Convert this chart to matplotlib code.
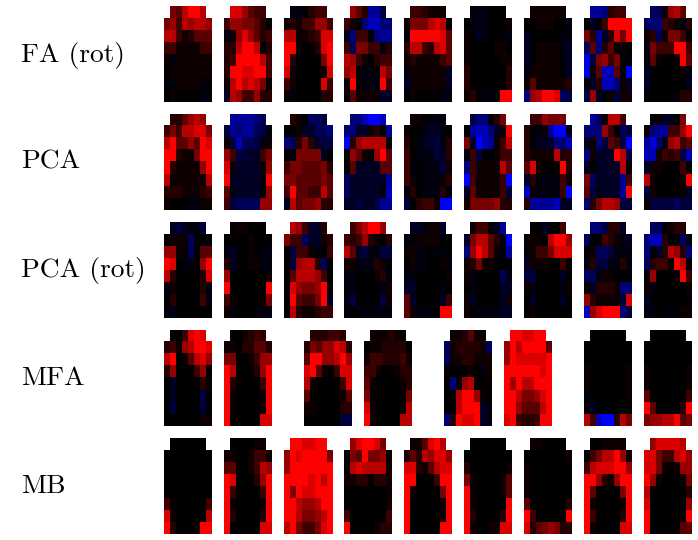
import numpy as np
import matplotlib
matplotlib.use("Agg")
import matplotlib.pyplot as plt
from matplotlib.colors import LinearSegmentedColormap

# loadings, scale -9 (blue) .. 0 (black) .. 9 (red)
fa_rot = [
    [[0,5,4,7,9,9,7,0],[5,6,3,7,6,7,7,6],[7,7,3,1,2,4,4,4],[3,3,1,1,1,1,3,3],
     [1,-1,1,1,1,1,1,1],[0,1,1,1,1,1,1,1],[-1,-1,1,1,1,1,-1,0],[0,1,0,0,0,0,-1,-1]],
    [[0,8,8,6,4,3,3,0],[3,6,6,5,5,4,2,0],[-1,1,6,8,6,4,2,3],[2,2,7,9,9,7,0,2],
     [2,3,9,9,9,9,7,3],[2,9,9,8,8,9,9,3],[1,7,9,7,8,7,5,0],[-2,7,6,3,3,6,2,2]],
    [[0,-1,-1,0,2,3,3,0],[1,2,1,3,3,6,6,3],[7,7,1,1,2,3,8,8],[9,9,1,0,0,2,8,9],
     [9,2,0,0,0,0,5,9],[8,1,0,0,0,0,1,8],[3,1,0,0,0,0,8,3],[1,-1,0,0,0,-1,2,2]],
    [[0,6,4,2,-6,-6,-3,0],[3,1,0,-5,-7,-7,-5,-5],[-2,-5,3,3,0,-5,-6,-6],[3,-4,5,5,3,3,-1,2],
     [7,6,3,1,0,2,3,3],[6,7,0,-1,-1,0,7,5],[1,9,0,-1,-1,-1,9,3],[0,4,1,1,1,1,-2,-2]],
    [[0,3,3,2,1,1,1,0],[1,5,5,5,7,8,7,0],[-1,9,9,9,9,9,8,4],[2,7,7,3,2,7,8,4],
     [1,2,1,1,1,1,3,4],[-1,1,1,1,1,1,1,-2],[-2,1,1,1,1,1,1,-2],[0,1,0,0,0,0,-1,-1]],
    [[0,-1,-1,-1,0,0,0,0],[0,-1,-1,-1,0,0,0,1],[1,0,-2,-1,0,0,0,-1],[1,0,0,0,0,1,1,0],
     [1,0,0,0,0,0,1,1],[2,0,0,0,0,0,0,2],[2,0,0,0,0,0,0,2],[1,2,0,-1,-1,0,9,9]],
    [[0,1,1,1,1,1,1,0],[0,0,1,1,1,0,0,-1],[-2,0,0,0,0,0,-1,-1],[-2,0,1,1,1,1,-1,-2],
     [-2,0,1,1,1,1,0,-2],[-1,1,1,1,1,1,0,-2],[1,4,1,1,1,1,1,2],[-5,6,7,9,9,8,-4,-3]],
    [[0,-6,-6,-5,2,3,3,0],[0,-2,0,3,9,9,9,9],[5,2,-6,-2,2,8,5,9],[-4,4,-5,2,4,0,1,0],
     [-8,-3,5,6,3,5,0,-1],[-8,1,4,-7,-7,4,0,-9],[0,-2,2,-7,-7,-5,1,-2],[-3,6,-2,0,1,-3,1,1]],
    [[0,-4,-4,1,6,7,4,0],[-4,-5,-5,3,2,1,-1,2],[1,2,-4,1,5,5,3,0],[-1,5,3,3,3,9,9,3],
     [-1,4,1,0,0,1,9,4],[-2,0,0,0,0,0,1,-1],[-2,0,0,0,0,0,0,-2],[-1,0,0,0,-1,0,2,2]],
]

pca = [
    [[0,2,2,4,6,7,6,0],[3,5,3,7,7,8,8,5],[7,9,4,4,6,4,9,8],[9,9,2,1,1,5,9,9],
     [9,2,1,1,1,1,6,9],[7,1,1,1,1,1,1,7],[2,2,2,1,1,1,2,3],[1,0,0,0,-1,-1,1,1]],
    [[0,-6,-6,-6,-6,-5,-4,0],[-3,-6,-5,-6,-6,-4,-3,-1],[1,-3,-7,-4,-4,-3,-1,1],[6,3,-3,-3,-2,-2,3,5],
     [8,1,-2,-2,-2,-2,1,6],[9,-2,-2,-2,-2,-2,-1,9],[4,-1,-2,-2,-2,-2,0,6],[3,-3,-4,-4,-4,-4,6,6]],
    [[0,2,1,0,-4,-4,-3,0],[0,0,1,-2,-2,-4,-4,-5],[-5,-4,2,5,2,-2,-3,-3],[0,-1,5,5,5,5,-2,0],
     [3,5,5,4,4,4,5,2],[5,5,4,4,4,4,5,4],[3,9,4,4,3,3,7,4],[-2,7,4,5,5,6,2,2]],
    [[0,-5,-5,-7,-9,-9,-7,0],[-5,-5,-2,-2,1,2,0,-6],[-9,2,6,7,7,7,7,0],[0,6,4,1,0,6,9,4],
     [0,4,-2,-2,-2,-2,4,4],[-4,-2,-2,-2,-2,-2,-2,-6],[-4,-2,-2,-2,-2,-2,-1,-7],[-2,-2,-3,-2,-2,-3,-6,-6]],
    [[0,1,1,0,-1,-1,-1,0],[1,0,0,-1,-2,-2,-1,0],[2,0,-1,-2,-2,-3,-1,2],[3,0,-1,-1,-1,-3,-2,2],
     [3,-1,0,-1,-1,-1,-3,1],[3,1,0,-1,-1,-1,1,2],[-1,2,0,-1,-1,-1,2,-1],[-3,0,2,3,3,1,-9,-9]],
    [[0,-3,-5,-5,0,2,5,0],[0,-6,-7,-7,-5,-2,1,9],[5,-2,-9,-7,-6,1,3,7],[-1,3,-3,0,0,1,3,3],
     [-5,3,1,1,1,1,7,4],[-9,3,1,1,1,1,3,-9],[-2,4,1,1,1,1,3,-3],[1,5,5,5,5,6,2,2]],
    [[0,3,3,6,5,5,5,0],[2,0,-1,1,-6,-9,-9,-2],[2,0,-2,-2,-2,-5,-5,-7],[2,1,1,1,1,7,2,2],
     [4,8,1,0,0,1,9,2],[-2,2,0,-1,-1,-1,3,1],[-7,1,-1,-1,-1,-1,3,-9],[2,-6,-6,-6,-6,-7,-2,-2]],
    [[0,-6,-4,1,7,7,3,0],[-5,-5,-5,6,3,0,-4,-3],[-2,1,-5,-3,4,3,-3,-9],[-5,1,-2,-2,-2,9,7,-3],
     [-2,0,-2,-2,-2,-2,7,0],[5,-4,-2,-2,-2,-2,-6,3],[4,-3,-1,-2,-2,-2,-6,9],[-5,2,5,7,7,6,-3,-3]],
    [[0,0,1,-2,-2,0,5,0],[1,-5,-6,-6,3,3,6,9],[-6,-8,-5,-1,6,7,3,4],[-7,-7,1,3,2,3,-3,-7],
     [-2,1,1,0,0,0,3,0],[7,1,0,0,0,0,1,9],[-3,1,0,0,0,0,1,-2],[1,-3,-3,-3,-3,-4,-3,-3]],
]

pca_rot = [
    [[0,-2,-3,-2,-1,-1,-3,0],[0,1,1,1,-4,0,0,-1],[6,6,1,0,-4,0,4,4],[9,8,0,-1,-1,0,6,9],
     [7,2,0,0,0,0,2,8],[-1,1,0,0,0,0,2,-1],[0,2,0,0,0,0,3,-1],[-1,-1,0,0,0,0,0,0]],
    [[0,0,1,1,0,0,0,0],[0,0,0,0,1,0,0,0],[-1,-2,0,0,1,0,-1,-1],[2,-2,0,0,1,1,-1,-1],
     [6,0,0,0,0,0,0,1],[9,0,0,0,0,0,0,9],[3,1,0,0,0,0,1,5],[1,-1,0,0,0,-1,-1,-1]],
    [[0,7,6,3,-2,-2,2,0],[5,3,3,-4,-2,-2,1,2],[0,-3,3,3,1,-1,0,3],[0,-3,6,7,7,2,-4,0],
     [0,4,7,7,7,6,3,0],[-1,8,6,5,5,6,9,1],[0,9,4,3,3,5,9,-2],[0,7,2,1,1,2,3,3]],
    [[0,3,5,7,9,9,6,0],[3,2,3,6,2,1,0,2],[7,4,-2,-3,-1,-1,-3,-3],[1,1,-1,-1,-1,2,1,-1],
     [-1,-1,0,0,0,1,2,-1],[-1,-1,0,0,0,0,-1,1],[-1,-3,0,0,0,0,-3,1],[-1,0,-1,-1,-1,-1,-1,-1]],
    [[0,-2,-2,-1,1,1,-2,0],[-1,0,1,1,1,1,0,0],[1,1,-1,-1,0,-1,-1,0],[0,1,-1,-1,0,0,1,-1],
     [-1,-1,0,0,0,0,0,1],[-2,-2,0,0,0,0,-1,0],[4,-2,0,0,0,0,-2,3],[4,1,-1,-1,-1,0,9,9]],
    [[0,1,3,3,0,-2,-6,0],[-2,5,7,7,4,2,-1,-9],[-5,6,9,7,4,1,-1,-6],[1,2,5,1,1,0,0,0],
     [1,-1,0,0,0,0,-4,-1],[0,-1,0,0,0,0,-2,-2],[1,-2,0,0,0,0,-2,1],[1,0,-1,-1,-1,-1,-2,-2]],
    [[0,0,0,-2,-1,0,3,0],[1,1,1,0,7,9,9,6],[-1,1,3,3,5,8,8,8],[-2,1,1,1,0,0,3,0],
     [-3,-3,0,0,0,0,-2,0],[1,-1,0,0,0,0,-1,1],[0,-2,0,0,0,0,-2,0],[0,1,0,0,0,0,0,0]],
    [[0,-5,-5,-3,2,2,-2,0],[-4,0,0,3,2,1,-1,-2],[0,1,-4,-4,-3,-1,-1,-1],[-1,2,-3,-3,-1,-1,2,-1],
     [-4,-4,-1,1,1,0,0,0],[1,-2,2,2,2,1,-5,-5],[6,2,1,1,1,1,-3,8],[-7,6,8,9,9,9,-5,-3]],
    [[0,-4,-4,-1,1,2,2,0],[-5,-7,-7,2,0,-1,-4,-1],[-5,0,-2,2,7,6,2,-5],[-4,2,3,3,1,9,7,0],
     [0,6,0,0,0,1,9,3],[1,-1,0,0,0,0,0,1],[-2,0,0,0,0,0,0,-1],[-1,-1,0,0,-1,0,1,1]],
]

mfa = [
    [[0,0,0,3,8,9,8,0],[2,3,1,6,7,9,9,8],[7,9,0,1,4,7,8,6],[2,6,0,0,0,3,6,0],
     [0,-2,0,0,0,0,2,1],[0,-2,0,0,0,0,-3,0],[0,-3,0,0,0,0,-3,0],[0,0,0,0,0,0,1,1]],
    [[0,0,0,1,2,3,2,0],[1,1,0,2,2,4,4,2],[5,5,0,0,1,3,6,6],[9,7,0,0,0,2,6,9],
     [9,2,0,0,0,0,3,9],[9,1,0,0,0,0,1,9],[9,1,0,0,0,0,1,9],[9,0,0,0,0,0,8,8]],
    [[0,2,2,2,3,3,2,0],[2,5,4,6,6,8,7,2],[4,9,9,6,6,7,9,6],[8,9,4,1,0,3,8,8],
     [7,1,0,0,0,0,3,8],[4,0,0,0,0,0,1,4],[1,1,0,0,0,0,2,2],[0,0,0,0,0,0,-3,-3]],
    [[0,1,1,1,2,1,0,0],[0,1,1,2,2,2,2,0],[1,3,3,2,2,2,3,1],[3,3,1,0,0,1,2,2],
     [4,1,0,0,0,0,1,2],[5,0,0,0,0,0,0,5],[8,1,0,0,0,0,1,7],[9,1,0,0,0,0,7,7]],
    [[0,1,1,2,4,1,1,0],[-4,1,2,2,2,2,1,-4],[-4,1,1,2,2,1,1,1],[1,0,0,0,1,0,-1,1],
     [0,-5,0,6,7,0,0,0],[0,0,7,9,9,6,1,0],[0,0,7,9,9,9,-2,-1],[-5,2,9,8,8,9,-2,-1]],
    [[0,9,9,8,8,9,9,0],[6,9,7,9,9,9,9,4],[6,9,8,8,8,8,8,9],[9,9,9,9,9,9,8,9],
     [9,6,9,7,7,9,9,9],[9,9,7,5,5,6,8,9],[9,9,6,4,4,4,7,9],[8,9,3,2,2,3,9,9]],
    [[0,0,0,0,0,0,0,0],[0,0,0,0,0,0,0,0],[0,0,0,0,0,0,0,0],[1,0,0,0,0,0,0,1],
     [1,0,0,0,0,0,0,1],[-1,0,0,0,0,0,0,1],[0,-2,0,0,0,0,0,0],[7,3,-7,-9,-9,2,7,5]],
    [[0,0,0,0,0,0,0,0],[0,0,0,0,0,0,0,0],[0,0,0,0,0,0,0,0],[1,0,0,0,0,0,0,1],
     [1,0,0,0,0,0,0,1],[4,0,0,0,0,0,0,3],[9,4,0,0,0,0,2,9],[5,6,6,7,7,9,4,5]],
]

mb = [
    [[0,0,0,0,0,0,0,0],[0,0,0,0,0,0,0,0],[0,0,0,0,0,0,0,0],[0,0,0,0,0,0,0,0],
     [0,0,0,0,0,0,0,0],[3,0,0,0,0,0,0,3],[8,1,0,0,0,0,0,7],[9,2,0,0,0,1,9,9]],
    [[0,0,0,0,0,1,1,0],[1,1,0,0,1,3,3,1],[4,4,0,0,1,3,7,6],[9,8,0,0,0,2,6,9],
     [9,3,0,0,0,0,3,9],[9,1,0,0,0,0,1,9],[9,2,0,0,0,0,2,9],[9,0,0,0,0,0,8,8]],
    [[0,9,9,8,8,9,9,0],[6,9,8,9,9,9,9,5],[6,9,9,9,9,9,9,9],[9,9,9,9,8,9,7,9],
     [9,5,9,8,8,9,9,9],[9,9,7,6,6,7,9,9],[9,9,7,5,5,6,7,9],[7,9,5,3,3,5,8,9]],
    [[0,6,8,9,9,8,5,0],[0,5,4,9,5,5,6,0],[0,7,8,7,7,7,7,1],[1,1,2,2,0,2,2,1],
     [0,0,0,0,0,0,0,1],[0,0,0,0,0,0,0,1],[3,0,0,0,0,0,0,3],[9,0,0,0,0,1,2,2]],
    [[0,1,1,4,8,9,7,0],[2,4,2,7,6,8,8,6],[8,8,2,1,4,7,8,8],[9,9,0,0,0,3,9,9],
     [9,1,0,0,0,0,5,9],[9,0,0,0,0,0,1,9],[9,0,0,0,0,0,1,9],[9,0,0,0,0,0,9,9]],
    [[0,0,0,0,0,0,0,0],[0,0,0,0,0,0,0,0],[2,0,0,0,0,0,0,1],[5,1,0,0,0,0,1,4],
     [9,1,0,0,0,0,1,4],[9,1,0,0,0,0,0,9],[9,2,0,0,0,0,2,9],[9,1,0,0,1,1,8,8]],
    [[0,1,1,0,0,0,0,0],[0,0,0,0,0,0,0,1],[1,0,0,0,0,0,0,0],[1,0,0,0,0,0,0,0],
     [1,0,0,0,0,0,0,0],[4,0,0,0,0,0,0,2],[9,3,0,0,0,0,1,9],[8,2,4,5,6,5,2,2]],
    [[0,0,0,1,1,1,1,0],[0,3,5,7,7,9,6,1],[3,7,8,8,8,9,9,6],[9,9,6,2,1,6,9,9],
     [9,4,0,0,0,0,5,9],[9,1,0,0,0,0,1,9],[9,3,0,0,0,0,2,9],[9,1,0,0,0,0,8,8]],
    [[0,6,8,8,8,8,7,0],[8,8,5,3,3,7,8,6],[8,8,5,1,0,1,6,6],[9,6,1,0,0,0,1,5],
     [7,0,0,0,0,0,0,2],[8,0,0,0,0,0,0,6],[9,0,0,0,0,0,0,9],[9,0,0,0,0,0,4,4]],
]

row_labels = ["FA (rot)", "PCA", "PCA (rot)", "MFA", "MB"]
rows = [fa_rot, pca, pca_rot, mfa, mb]

W, H = 698, 540
panel_w, panel_h = 48, 96
x_full = [164, 224, 284, 344, 404, 464, 524, 584, 644]
x_mfa = [164, 224, 304, 364, 444, 504, 584, 644]
y_tops = [6, 114, 222, 330, 438]
baselines = [61.7, 169, 277, 385, 493]

# my low readings came out too bright, so darken the bottom of the scale
gamma = 1.3
cmap = LinearSegmentedColormap.from_list("brb", ["#0000ff", "#000000", "#ff0000"], N=512)
cmap.set_bad("white")

fig = plt.figure(figsize=(W / 100, H / 100), dpi=100, facecolor="white")

for i, panels in enumerate(rows):
    xs = x_mfa if len(panels) == 8 else x_full
    for x, panel in zip(xs, panels):
        ax = fig.add_axes([x / W, 1 - (y_tops[i] + panel_h) / H, panel_w / W, panel_h / H])
        arr = np.array(panel, dtype=float)
        img = np.ma.array(np.sign(arr) * (np.abs(arr) / 9) ** gamma)
        img[0, 0] = np.ma.masked
        img[0, -1] = np.ma.masked
        ax.imshow(img, cmap=cmap, vmin=-1, vmax=1, aspect="auto", interpolation="nearest")
        ax.axis("off")
    fig.text(21.3 / W, 1 - baselines[i] / H, row_labels[i], family="cmr10", fontsize=19.8,
             ha="left", va="baseline", color="black")

fig.savefig("out.png", dpi=100, facecolor="white")
